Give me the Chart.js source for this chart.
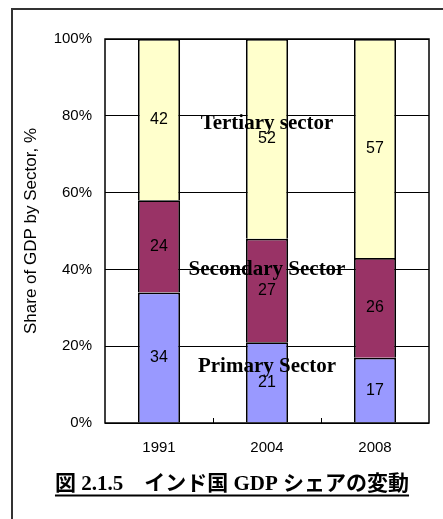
<!DOCTYPE html>
<html>
<head>
<meta charset="utf-8">
<script src="https://cdn.jsdelivr.net/npm/chart.js@4/dist/chart.umd.min.js"></script>
<style>
  html, body { margin: 0; padding: 0; background: #fff; }
  canvas { display: block; }
</style>
</head>
<body>
<canvas id="chart" width="443" height="519"></canvas>
<script>
// Share of India's GDP by sector (%)
const categories = ['1991', '2004', '2008'];
const primary    = [34, 21, 17];
const secondary  = [24, 27, 26];
const tertiary   = [42, 52, 57];
const yTickValues = [0, 20, 40, 60, 80, 100];
const seriesNames = ['Primary Sector', 'Secondary Sector', 'Tertiary sector'];
const figureTitle = '図 2.1.5　インド国 GDP シェアの変動';

const SANS = "'Liberation Sans', Arial, sans-serif";
const SERIF = "'Liberation Serif', 'Times New Roman', serif";

// Page frame (top and left rules) and white background
const framePlugin = {
  id: 'frame',
  beforeDraw(chart) {
    const ctx = chart.ctx;
    ctx.save();
    ctx.fillStyle = '#fff';
    ctx.fillRect(0, 0, chart.width, chart.height);
    ctx.strokeStyle = '#333';
    ctx.lineWidth = 2;
    ctx.beginPath();
    ctx.moveTo(12, chart.height);
    ctx.lineTo(12, 9);
    ctx.lineTo(chart.width, 9);
    ctx.stroke();
    ctx.restore();
  }
};

// Values written in the middle of each stacked segment
const valueLabels = {
  id: 'valueLabels',
  afterDatasetsDraw(chart) {
    const ctx = chart.ctx;
    ctx.save();
    ctx.font = '16px ' + SANS;
    ctx.fillStyle = '#000';
    ctx.textAlign = 'center';
    ctx.textBaseline = 'middle';
    chart.data.datasets.forEach((ds, i) => {
      chart.getDatasetMeta(i).data.forEach((bar, j) => {
        ctx.fillText(String(ds.data[j]), bar.x, (bar.y + bar.base) / 2);
      });
    });
    ctx.restore();
  }
};

// Plot frame, category separators, sector names and the figure caption
const decorations = {
  id: 'decorations',
  afterDraw(chart, args, opts) {
    const ctx = chart.ctx;
    const area = chart.chartArea;
    const xs = chart.scales.x;
    const ys = chart.scales.y;
    ctx.save();

    // plot area border
    ctx.strokeStyle = '#000';
    ctx.lineWidth = 1.5;
    ctx.strokeRect(area.left, area.top, area.right - area.left, area.bottom - area.top);

    // small inward tick marks between categories
    ctx.lineWidth = 1;
    for (let j = 1; j < categories.length; j++) {
      const x = Math.round((xs.getPixelForValue(j - 1) + xs.getPixelForValue(j)) / 2) + 0.5;
      ctx.beginPath();
      ctx.moveTo(x, area.bottom);
      ctx.lineTo(x, area.bottom - 5);
      ctx.stroke();
    }

    // sector names over the middle column
    ctx.font = 'bold 21px ' + SERIF;
    ctx.fillStyle = '#000';
    ctx.textAlign = 'center';
    ctx.textBaseline = 'middle';
    opts.sectorLabels.forEach(l => {
      ctx.fillText(l.text, xs.getPixelForValue(l.category), ys.getPixelForValue(l.level));
    });

    // underlined caption
    ctx.font = "bold 21px 'Liberation Serif', 'Noto Sans CJK JP', serif";
    const cx = 232, cy = 485;
    ctx.fillText(figureTitle, cx, cy);
    const w = ctx.measureText(figureTitle).width;
    ctx.lineWidth = 2;
    ctx.beginPath();
    ctx.moveTo(cx - w / 2, 495.5);
    ctx.lineTo(cx + w / 2, 495.5);
    ctx.stroke();

    ctx.restore();
  }
};

new Chart(document.getElementById('chart'), {
  type: 'bar',
  data: {
    labels: categories,
    datasets: [
      { label: seriesNames[0], data: primary,   backgroundColor: '#9999FF' },
      { label: seriesNames[1], data: secondary, backgroundColor: '#993366' },
      { label: seriesNames[2], data: tertiary,  backgroundColor: '#FFFFCC' }
    ]
  },
  options: {
    responsive: false,
    animation: false,
    devicePixelRatio: 1,
    layout: { padding: { top: 39, right: 14, left: 0, bottom: 0 } },
    datasets: {
      bar: {
        borderColor: '#000',
        borderWidth: 1.75,
        categoryPercentage: 1,
        barPercentage: 0.39
      }
    },
    scales: {
      x: {
        stacked: true,
        grid: { display: false, drawTicks: false },
        border: { display: false },
        ticks: { color: '#000', font: { family: SANS, size: 15 }, padding: 16 },
        afterFit(scale) { scale.height = 96; }
      },
      y: {
        stacked: true,
        min: 0,
        max: 100,
        afterBuildTicks(scale) { scale.ticks = yTickValues.map(v => ({ value: v })); },
        grid: { color: '#000', lineWidth: 1, drawTicks: false },
        border: { display: false },
        ticks: {
          color: '#000',
          font: { family: SANS, size: 15 },
          padding: 13,
          callback: v => v + '%'
        },
        title: {
          display: true,
          text: 'Share of GDP by Sector, %',
          color: '#000',
          font: { family: SANS, size: 17 },
          padding: { top: 21, bottom: 0 }
        },
        afterFit(scale) { scale.width = 105; }
      }
    },
    plugins: {
      legend: { display: false },
      title: { display: false },
      tooltip: { enabled: false },
      decorations: {
        sectorLabels: [
          { text: seriesNames[2], category: 1, level: 78 },
          { text: seriesNames[1], category: 1, level: 40 },
          { text: seriesNames[0], category: 1, level: 14.6 }
        ]
      }
    }
  },
  plugins: [framePlugin, valueLabels, decorations]
});
</script>
</body>
</html>
